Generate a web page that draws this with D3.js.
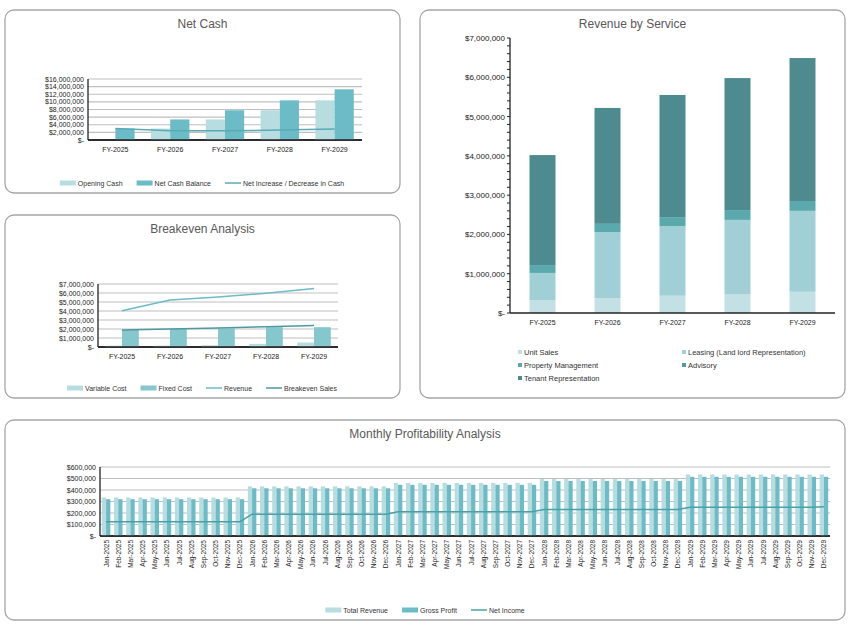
<!DOCTYPE html>
<html><head><meta charset="utf-8">
<script src="https://cdn.jsdelivr.net/npm/d3@7"></script>
<style>body{margin:0;background:#fff;font-family:"Liberation Sans",Arial,sans-serif}</style>
</head><body><svg id="c" width="850" height="625"></svg>
<script>
const years=["FY-2025","FY-2026","FY-2027","FY-2028","FY-2029"];
const openingCash=[0,3000000,5400000,7800000,10400000];
const netCashBalance=[3000000,5400000,7800000,10400000,13300000];
const netIncrease=[3000000,2400000,2400000,2600000,2900000];
const variableCost=[150000,150000,200000,350000,500000];
const fixedCost=[1900000,2000000,2050000,2200000,2200000];
const revenue=[4020000,5220000,5550000,5980000,6490000];
const breakevenSales=[1900000,2000000,2100000,2250000,2400000];
const services=["Unit Sales","Leasing (Land lord Representation)","Property Management","Advisory","Tenant Representation"];
const unitSales=[330000,380000,440000,470000,540000];
const leasing=[690000,1680000,1770000,1900000,2060000];
const propertyMgmt=[200000,210000,230000,250000,250000];
const advisory=[0,0,0,0,0];
const tenantRep=[2800000,2950000,3110000,3360000,3640000];
const monthNames=["Jan","Feb","Mar","Apr","May","Jun","Jul","Aug","Sep","Oct","Nov","Dec"];
const yearRev=[335000,432000,462000,495000,535000];
const yearGP=[320000,415000,445000,478000,515000];
const yearNI=[125000,190000,210000,230000,250000];
const netIncomeDec=[125000,190000,210000,230000,255000];

const months=[],mRev=[],mGP=[],mNI=[];
[2025,2026,2027,2028,2029].forEach((y,i)=>monthNames.forEach((m,j)=>{months.push(m+"-"+y);mRev.push(yearRev[i]);mGP.push(yearGP[i]);mNI.push(j==11?netIncomeDec[i]:yearNI[i]);}));

const svg=d3.select("#c");
const C={light:"#b7dde1",mid:"#6bbcc6",line:"#5aaab5",dark:"#4a8c90"};
const money=d=>d===0?"$-":"$"+d3.format(",")(d);

function panel(x,y,w,h,title){
  svg.append("rect").attr("x",x).attr("y",y).attr("width",w).attr("height",h).attr("rx",9)
    .attr("fill","#fff").attr("stroke","#a6a6a6").attr("stroke-width",1.3);
  svg.append("text").attr("x",x+w/2).attr("y",y+18).attr("text-anchor","middle")
    .attr("font-size",12).attr("fill","#595959").text(title);
}
function yAxis(g,y,x0,x1,ticks,fs,minor){
  ticks.forEach(t=>{
    g.append("line").attr("x1",x0).attr("x2",x1).attr("y1",y(t)).attr("y2",y(t)).attr("stroke","#bfbfbf").attr("stroke-width",1.2);
    g.append("text").attr("x",x0-4).attr("y",y(t)+2.5).attr("text-anchor","end").attr("font-size",fs).attr("fill","#222").text(money(t));
  });
  if(minor) minor.forEach(t=>g.append("line").attr("x1",x0-3).attr("x2",x0).attr("y1",y(t)).attr("y2",y(t)).attr("stroke","#222"));
  g.append("line").attr("x1",x0).attr("x2",x0).attr("y1",y(0)).attr("y2",y(ticks[ticks.length-1])).attr("stroke","#222").attr("stroke-width",1.3);
  g.append("line").attr("x1",x0).attr("x2",x1).attr("y1",y(0)).attr("y2",y(0)).attr("stroke","#222").attr("stroke-width",1.3);
}
function legend(items,cx,cy,fs){
  const g=svg.append("g");let x=0;
  items.forEach(it=>{
    const gi=g.append("g").attr("transform",`translate(${x},0)`);
    if(it.type=="bar") gi.append("rect").attr("x",0).attr("y",-2.5).attr("width",16).attr("height",5).attr("fill",it.c);
    else gi.append("line").attr("x1",0).attr("x2",16).attr("y1",0).attr("y2",0).attr("stroke",it.c).attr("stroke-width",1.5);
    const t=gi.append("text").attr("x",18).attr("y",fs/2-1).attr("font-size",fs).attr("fill","#333").text(it.n);
    x+=18+t.node().getComputedTextLength()+14;
  });
  g.attr("transform",`translate(${cx-(x-14)/2},${cy})`);
}
function groupedChart(x0,x1,y0,y1,max,step,bars,lines,fs){
  const g=svg.append("g");
  const x=d3.scaleBand().domain(years).range([x0,x1]).paddingInner(0.3).paddingOuter(0.15);
  const y=d3.scaleLinear().domain([0,max]).range([y0,y1]);
  yAxis(g,y,x0,x1,d3.range(0,max+1,step),fs);
  const xs=d3.scaleBand().domain(d3.range(bars.length)).range([0,x.bandwidth()]);
  bars.forEach((b,k)=>g.selectAll(null).data(b.v).join("rect").attr("x",(d,i)=>x(years[i])+xs(k)).attr("width",xs.bandwidth())
    .attr("y",d=>y(d)).attr("height",d=>y0-y(d)).attr("fill",b.c));
  lines.forEach(l=>g.append("path").datum(l.v).attr("fill","none").attr("stroke",l.c).attr("stroke-width",1.5)
    .attr("d",d3.line().x((d,i)=>x(years[i])+x.bandwidth()/2).y(d=>y(d))));
  g.append("line").attr("x1",x0).attr("x2",x1).attr("y1",y0).attr("y2",y0).attr("stroke","#222").attr("stroke-width",1.3);
  years.forEach(yr=>g.append("text").attr("x",x(yr)+x.bandwidth()/2).attr("y",y0+12).attr("text-anchor","middle").attr("font-size",fs).attr("fill","#222").text(yr));
}

// Net Cash
panel(5,10,395,183,"Net Cash");
groupedChart(88,362,140,79,16000000,2000000,
  [{v:openingCash,c:C.light},{v:netCashBalance,c:C.mid}],[{v:netIncrease,c:C.line}],7);
legend([{n:"Opening Cash",c:C.light,type:"bar"},{n:"Net Cash Balance",c:C.mid,type:"bar"},{n:"Net Increase / Decrease in Cash",c:C.line,type:"line"}],202,183,7);

// Breakeven
panel(5,215,395,183,"Breakeven Analysis");
groupedChart(98,338,347,284,7000000,1000000,
  [{v:variableCost,c:C.light},{v:fixedCost,c:"#86c6cd"}],[{v:revenue,c:"#6bbcc6"},{v:breakevenSales,c:"#4d9aa2"}],7);
legend([{n:"Variable Cost",c:C.light,type:"bar"},{n:"Fixed Cost",c:"#86c6cd",type:"bar"},{n:"Revenue",c:"#6bbcc6",type:"line"},{n:"Breakeven Sales",c:"#4d9aa2",type:"line"}],202,388,7);

// Revenue by Service
panel(420,10,425,388,"Revenue by Service");
{
  const g=svg.append("g");
  const x0=510,x1=835,y0=313;
  const x=d3.scaleBand().domain(years).range([x0,x1]).paddingInner(0.6).paddingOuter(0.3);
  const y=d3.scaleLinear().domain([0,7000000]).range([y0,38]);
  const cols=["#c3e1e5","#a0cfd5","#5aa9ad","#4f9ca0","#4d8b8f"];
  const series=[unitSales,leasing,propertyMgmt,advisory,tenantRep];
  const rows=years.map((yr,i)=>{const o={yr};services.forEach((s,k)=>o[s]=series[k][i]);return o;});
  const st=d3.stack().keys(services)(rows);
  st.forEach((s,k)=>g.selectAll(null).data(s).join("rect").attr("x",d=>x(d.data.yr)).attr("width",x.bandwidth())
    .attr("y",d=>y(d[1])).attr("height",d=>y(d[0])-y(d[1])).attr("fill",cols[k]));
  const ticks=d3.range(0,7000001,1000000);
  ticks.forEach(t=>g.append("text").attr("x",x0-5).attr("y",y(t)+3).attr("text-anchor","end").attr("font-size",8).attr("fill","#222").text(money(t)));
  d3.range(0,7000001,200000).forEach(t=>g.append("line").attr("x1",x0-3).attr("x2",x0).attr("y1",y(t)).attr("y2",y(t)).attr("stroke","#222"));
  g.append("line").attr("x1",x0).attr("x2",x0).attr("y1",y0).attr("y2",38).attr("stroke","#222").attr("stroke-width",1.3);
  g.append("line").attr("x1",x0).attr("x2",x1).attr("y1",y0).attr("y2",y0).attr("stroke","#222").attr("stroke-width",1.3);
  years.forEach(yr=>g.append("text").attr("x",x(yr)+x.bandwidth()/2).attr("y",y0+12).attr("text-anchor","middle").attr("font-size",7).attr("fill","#222").text(yr));
  const pos=[[518,352],[682,352],[518,365],[682,365],[518,378]];
  services.forEach((s,k)=>{
    g.append("rect").attr("x",pos[k][0]).attr("y",pos[k][1]-2).attr("width",4).attr("height",4).attr("fill",cols[k]);
    g.append("text").attr("x",pos[k][0]+6).attr("y",pos[k][1]+2.5).attr("font-size",7.5).attr("fill","#333").text(s);
  });
}

// Monthly
panel(5,420,840,200,"Monthly Profitability Analysis");
{
  const g=svg.append("g");
  const x0=100,x1=830,y0=536,y1=467;
  const x=d3.scaleBand().domain(months).range([x0,x1]).paddingInner(0.3).paddingOuter(0.15);
  const y=d3.scaleLinear().domain([0,600000]).range([y0,y1]);
  yAxis(g,y,x0,x1,d3.range(0,600001,100000),7);
  const xs=d3.scaleBand().domain([0,1]).range([0,x.bandwidth()]);
  [[mRev,C.light],[mGP,C.mid]].forEach(([v,c],k)=>g.selectAll(null).data(v).join("rect")
    .attr("x",(d,i)=>x(months[i])+xs(k)).attr("width",xs.bandwidth()).attr("y",d=>y(d)).attr("height",d=>y0-y(d)).attr("fill",c));
  g.append("path").datum(mNI).attr("fill","none").attr("stroke","#4aa0a8").attr("stroke-width",1.5)
    .attr("d",d3.line().x((d,i)=>x(months[i])+x.bandwidth()/2).y(d=>y(d)));
  g.append("line").attr("x1",x0).attr("x2",x1).attr("y1",y0).attr("y2",y0).attr("stroke","#222").attr("stroke-width",1.3);
  months.forEach(m=>g.append("text").attr("transform",`translate(${x(m)+x.bandwidth()/2+2.5},${y0+4}) rotate(-90)`)
    .attr("text-anchor","end").attr("font-size",6.5).attr("fill","#222").text(m));
  legend([{n:"Total Revenue",c:C.light,type:"bar"},{n:"Gross Profit",c:C.mid,type:"bar"},{n:"Net Income",c:"#4aa0a8",type:"line"}],425,610,7);
}
</script></body></html>
